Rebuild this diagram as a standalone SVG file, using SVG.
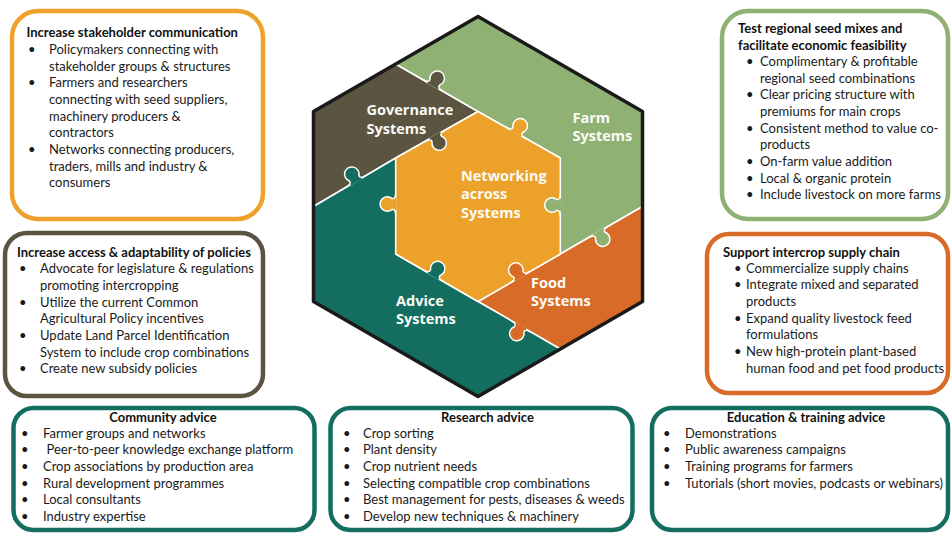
<svg xmlns="http://www.w3.org/2000/svg" xmlns:xlink="http://www.w3.org/1999/xlink" width="952" height="533" viewBox="0 0 952 533">
<style>
.bx{fill:#fff;stroke-width:4.5}
.t{font-family:Lato,"Liberation Sans",sans-serif;font-size:13px;fill:#1a1a1a}
.h{font-family:Lato,"Liberation Sans",sans-serif;font-size:13px;font-weight:bold;fill:#111}
.c{text-anchor:middle}
.hx{font-family:"Open Sans","DejaVu Sans",sans-serif;font-size:14.5px;font-weight:bold;fill:#fbfbf6}
.rg{stroke:#fff;stroke-width:1.5;stroke-linejoin:round}
.kn{stroke:#fff;stroke-width:1.3}
</style>
<defs>
<path id="knob" d="M -10 0 C -6.5 0 -4.2 -0.6 -4.8 -3.2 A 6.3 6.3 0 1 1 4.8 -3.2 C 4.2 -0.6 6.5 0 10 0"/>
</defs>
<rect width="952" height="533" fill="#fff"/>

<g id="hexagon">
<path class="rg" fill="#5a5440" d="M313.5,111.5 L395.75,64 L478,111.5 L395.7,158 L313.5,206.5 Z"/>
<path class="rg" fill="#90b174" d="M395.75,64 L478,16.5 L642.5,111.5 L642.5,206.5 L560.3,254 L560.3,158 L478,111.5 Z"/>
<path class="rg" fill="#d86b27" d="M642.5,206.5 L642.5,301.5 L560.25,349 L478,301.5 L560.3,254 Z"/>
<path class="rg" fill="#136e60" d="M560.25,349 L478,396.5 L313.5,301.5 L313.5,206.5 L395.7,158 L395.7,254 L478,301.5 Z"/>
<path class="rg" fill="#eca12a" d="M478,111.5 L560.3,158 L560.3,254 L478,301.5 L395.7,254 L395.7,158 Z"/>
<g transform="translate(433,85.5) rotate(30) scale(1.15)"><use href="#knob" class="kn" fill="#5a5440"/><line x1="-5.3" y1="0" x2="5.3" y2="0" stroke="#5a5440" stroke-width="1.6"/></g>
<g transform="translate(435,135.8) rotate(150) scale(1.15)"><use href="#knob" class="kn" fill="#5a5440"/><line x1="-5.3" y1="0" x2="5.3" y2="0" stroke="#5a5440" stroke-width="1.6"/></g>
<g transform="translate(356,181.4) rotate(-30) scale(1.15)"><use href="#knob" class="kn" fill="#136e60"/><line x1="-5.3" y1="0" x2="5.3" y2="0" stroke="#136e60" stroke-width="1.6"/></g>
<g transform="translate(395.7,204) rotate(-90) scale(1.15)"><use href="#knob" class="kn" fill="#eca12a"/><line x1="-5.3" y1="0" x2="5.3" y2="0" stroke="#eca12a" stroke-width="1.6"/></g>
<g transform="translate(516,133) rotate(30) scale(1.15)"><use href="#knob" class="kn" fill="#eca12a"/><line x1="-5.3" y1="0" x2="5.3" y2="0" stroke="#eca12a" stroke-width="1.6"/></g>
<g transform="translate(560.3,205) rotate(-90) scale(1.15)"><use href="#knob" class="kn" fill="#90b174"/><line x1="-5.3" y1="0" x2="5.3" y2="0" stroke="#90b174" stroke-width="1.6"/></g>
<g transform="translate(598.5,231.9) rotate(150) scale(1.15)"><use href="#knob" class="kn" fill="#90b174"/><line x1="-5.3" y1="0" x2="5.3" y2="0" stroke="#90b174" stroke-width="1.6"/></g>
<g transform="translate(520,277.3) rotate(-30) scale(1.15)"><use href="#knob" class="kn" fill="#d86b27"/><line x1="-5.3" y1="0" x2="5.3" y2="0" stroke="#d86b27" stroke-width="1.6"/></g>
<g transform="translate(521,326.3) rotate(210) scale(1.15)"><use href="#knob" class="kn" fill="#d86b27"/><line x1="-5.3" y1="0" x2="5.3" y2="0" stroke="#d86b27" stroke-width="1.6"/></g>
<g transform="translate(433.5,275.8) rotate(30) scale(1.15)"><use href="#knob" class="kn" fill="#136e60"/><line x1="-5.3" y1="0" x2="5.3" y2="0" stroke="#136e60" stroke-width="1.6"/></g>
<path d="M478,16.5 L642.5,111.5 L642.5,301.5 L478,396.5 L313.5,301.5 L313.5,111.5 Z" fill="none" stroke="#1a1a1a" stroke-width="3.5" stroke-linejoin="round"/>
</g>

<g id="governance-systems"><text class="hx" x="366.5" y="115">Governance</text><text class="hx" x="366.5" y="133.5">Systems</text></g>
<g id="farm-systems"><text class="hx" x="572.5" y="122.7">Farm</text><text class="hx" x="572.5" y="141">Systems</text></g>
<g id="networking-across-systems"><text class="hx" x="461" y="181">Networking</text><text class="hx" x="461" y="199.3">across</text><text class="hx" x="461" y="217.7">Systems</text></g>
<g id="food-systems"><text class="hx" x="531" y="287.5">Food</text><text class="hx" x="531" y="306">Systems</text></g>
<g id="advice-systems"><text class="hx" x="396" y="305.5">Advice</text><text class="hx" x="396" y="324">Systems</text></g>

<g id="connectors"></g>

<g id="stakeholder-communication">
<rect class="bx" x="12" y="11" width="251" height="208" rx="26" stroke="#eea22c"/>
<text class="h" x="26.5" y="37">Increase stakeholder communication</text>
<text class="t" x="28" y="54">•</text><text class="t" x="49" y="54">Policymakers connecting with</text>
<text class="t" x="49" y="70.7">stakeholder groups &amp; structures</text>
<text class="t" x="28" y="87.4">•</text><text class="t" x="49" y="87.4">Farmers and researchers</text>
<text class="t" x="49" y="104">connecting with seed suppliers,</text>
<text class="t" x="49" y="120.7">machinery producers &amp;</text>
<text class="t" x="49" y="137.4">contractors</text>
<text class="t" x="28" y="154">•</text><text class="t" x="49" y="154">Networks connecting producers,</text>
<text class="t" x="49" y="170.7">traders, mills and industry &amp;</text>
<text class="t" x="49" y="187.4">consumers</text>
</g>

<g id="policies">
<rect class="bx" x="5" y="233" width="258" height="163" rx="22" stroke="#5a5440"/>
<text class="h" x="17" y="257.3">Increase access &amp; adaptability of policies</text>
<text class="t" x="19" y="273.3">•</text><text class="t" x="40" y="273.3">Advocate for legislature &amp; regulations</text>
<text class="t" x="40" y="290">promoting intercropping</text>
<text class="t" x="19" y="306.7">•</text><text class="t" x="40" y="306.7">Utilize the current Common</text>
<text class="t" x="40" y="323.3">Agricultural Policy incentives</text>
<text class="t" x="19" y="340">•</text><text class="t" x="40" y="340">Update Land Parcel Identification</text>
<text class="t" x="40" y="356.7">System to include crop combinations</text>
<text class="t" x="19" y="373.3">•</text><text class="t" x="40" y="373.3">Create new subsidy policies</text>
</g>

<g id="seed-mixes">
<rect class="bx" x="722" y="11" width="226" height="208" rx="26" stroke="#8fb174"/>
<text class="h" x="738" y="33.3">Test regional seed mixes and</text>
<text class="h" x="738" y="49.8">facilitate economic feasibility</text>
<text class="t" x="746" y="66">•</text><text class="t" x="760" y="66">Complimentary &amp; profitable</text>
<text class="t" x="760" y="82.7">regional seed combinations</text>
<text class="t" x="746" y="99.3">•</text><text class="t" x="760" y="99.3">Clear pricing  structure with</text>
<text class="t" x="760" y="116">premiums for main crops</text>
<text class="t" x="746" y="132.7">•</text><text class="t" x="760" y="132.7">Consistent method to value co-</text>
<text class="t" x="760" y="149.3">products</text>
<text class="t" x="746" y="166">•</text><text class="t" x="760" y="166">On-farm value addition</text>
<text class="t" x="746" y="182.7">•</text><text class="t" x="760" y="182.7">Local &amp; organic protein</text>
<text class="t" x="746" y="199.3">•</text><text class="t" x="760" y="199.3">Include livestock on more farms</text>
</g>

<g id="supply-chain">
<rect class="bx" x="707" y="234" width="241" height="159" rx="22" stroke="#d86b27"/>
<text class="h" x="723" y="256.7">Support intercrop supply chain</text>
<text class="t" x="734" y="272.7">•</text><text class="t" x="746" y="272.7">Commercialize supply chains</text>
<text class="t" x="734" y="289.3">•</text><text class="t" x="746" y="289.3">Integrate mixed and separated</text>
<text class="t" x="746" y="306">products</text>
<text class="t" x="734" y="322.7">•</text><text class="t" x="746" y="322.7">Expand quality livestock feed</text>
<text class="t" x="746" y="339.3">formulations</text>
<text class="t" x="734" y="356">•</text><text class="t" x="746" y="356">New high-protein plant-based</text>
<text class="t" x="746" y="372.7">human food and pet food products</text>
</g>

<g id="community-advice">
<rect class="bx" x="13.5" y="408" width="301" height="122" rx="20" stroke="#146e60"/>
<text class="h c" x="163" y="422.3">Community advice</text>
<text class="t" x="21" y="437.7">•</text><text class="t" x="43" y="437.7">Farmer groups and networks</text>
<text class="t" x="21" y="454.3">•</text><text class="t" x="46.5" y="454.3">Peer-to-peer knowledge exchange platform</text>
<text class="t" x="21" y="471">•</text><text class="t" x="43" y="471">Crop associations by production area</text>
<text class="t" x="21" y="487.7">•</text><text class="t" x="43" y="487.7">Rural development programmes</text>
<text class="t" x="21" y="504.3">•</text><text class="t" x="43" y="504.3">Local consultants</text>
<text class="t" x="21" y="521">•</text><text class="t" x="43" y="521">Industry expertise</text>
</g>

<g id="research-advice">
<rect class="bx" x="330.5" y="408" width="302" height="122" rx="20" stroke="#146e60"/>
<text class="h c" x="487.5" y="422.3">Research advice</text>
<text class="t" x="343" y="437.7">•</text><text class="t" x="363" y="437.7">Crop sorting</text>
<text class="t" x="343" y="454.3">•</text><text class="t" x="363" y="454.3">Plant density</text>
<text class="t" x="343" y="471">•</text><text class="t" x="363" y="471">Crop nutrient needs</text>
<text class="t" x="343" y="487.7">•</text><text class="t" x="363" y="487.7">Selecting compatible crop combinations</text>
<text class="t" x="343" y="504.3">•</text><text class="t" x="363" y="504.3">Best management for pests, diseases &amp; weeds</text>
<text class="t" x="343" y="521">•</text><text class="t" x="363" y="521">Develop new techniques &amp; machinery</text>
</g>

<g id="education-advice">
<rect class="bx" x="652" y="408" width="296" height="122" rx="20" stroke="#146e60"/>
<text class="h c" x="806" y="422.3">Education &amp; training advice</text>
<text class="t" x="663" y="437.7">•</text><text class="t" x="685" y="437.7">Demonstrations</text>
<text class="t" x="663" y="454.3">•</text><text class="t" x="685" y="454.3">Public awareness campaigns</text>
<text class="t" x="663" y="471">•</text><text class="t" x="685" y="471">Training programs for farmers</text>
<text class="t" x="663" y="487.7">•</text><text class="t" x="685" y="487.7">Tutorials (short movies, podcasts or webinars)</text>
</g>
</svg>
